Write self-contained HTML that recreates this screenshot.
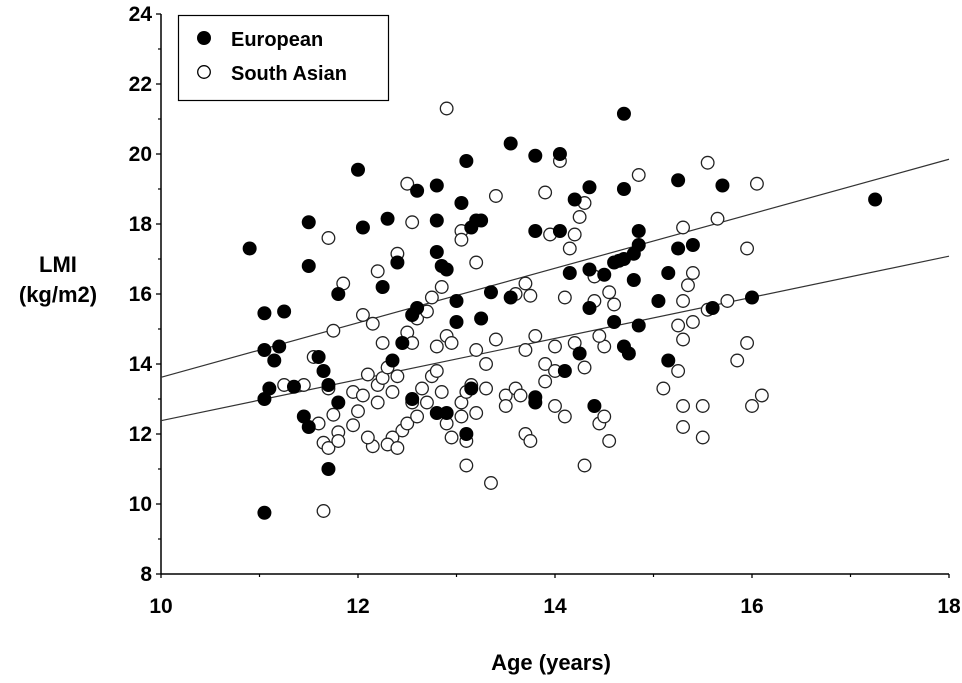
<!DOCTYPE html>
<html><head><meta charset="utf-8">
<style>
html,body{margin:0;padding:0;background:#fff;}
svg{display:block;font-family:"Liberation Sans",Arial,sans-serif;}
</style></head>
<body>
<svg id="chart" width="962" height="683" viewBox="0 0 962 683" xmlns="http://www.w3.org/2000/svg">
<g id="axes"></g>
<g id="lines"></g>
<g id="pts"></g>
<text x="58" y="272" font-size="22" font-weight="bold" text-anchor="middle">LMI</text>
<text x="58" y="302" font-size="22" font-weight="bold" text-anchor="middle">(kg/m2)</text>
<text x="551" y="670" font-size="22" font-weight="bold" text-anchor="middle">Age (years)</text>
<g>
<rect x="178.5" y="15.5" width="210" height="85" fill="#fff" stroke="#000" stroke-width="1.2"/>
<circle cx="204" cy="38" r="7" fill="#000"/>
<text x="231" y="46" font-size="20" font-weight="bold">European</text>
<circle cx="204" cy="72" r="6.3" fill="#fff" stroke="#000" stroke-width="1.3"/>
<text x="231" y="80" font-size="20" font-weight="bold">South Asian</text>
</g>
</svg>
<script>
const xTicks=[10,12,14,16,18];
const yTicks=[8,10,12,14,16,18,20,22,24];
const euroX=[10.9,11.05,11.05,11.1,11.05,11.15,11.25,11.2,11.35,11.5,11.5,11.45,11.5,11.6,11.65,11.7,11.7,11.05,11.8,11.8,12.0,12.05,12.25,12.3,12.4,12.35,12.45,12.55,12.55,12.6,12.6,12.8,12.8,12.8,12.85,12.9,12.8,12.9,13.0,13.0,13.05,13.1,13.15,13.2,13.25,13.35,13.15,13.1,13.25,13.55,13.55,13.8,13.8,13.8,13.8,14.05,14.05,14.1,14.15,14.2,14.25,14.35,14.35,14.35,14.4,14.5,14.6,14.6,14.65,14.7,14.7,14.7,14.7,14.75,14.8,14.8,14.85,14.85,14.85,15.05,15.15,15.15,15.25,15.25,15.4,15.6,15.7,16.0,17.25];
const euroY=[17.3,14.4,15.45,13.3,13.0,14.1,15.5,14.5,13.35,18.05,16.8,12.5,12.2,14.2,13.8,13.4,11.0,9.75,16.0,12.9,19.55,17.9,16.2,18.15,16.9,14.1,14.6,15.4,13.0,18.95,15.6,19.1,18.1,17.2,16.8,16.7,12.6,12.6,15.8,15.2,18.6,19.8,17.9,18.1,18.1,16.05,13.3,12.0,15.3,20.3,15.9,19.95,17.8,13.05,12.9,20.0,17.8,13.8,16.6,18.7,14.3,19.05,16.7,15.6,12.8,16.55,16.9,15.2,16.95,17.0,21.15,19.0,14.5,14.3,17.15,16.4,17.4,17.8,15.1,15.8,16.6,14.1,19.25,17.3,17.4,15.6,19.1,15.9,18.7];
const asianX=[12.9,11.7,11.85,12.05,11.75,12.15,11.55,11.25,11.45,11.7,11.6,11.75,11.8,11.65,11.7,11.8,11.95,12.0,11.95,12.05,12.1,12.2,12.2,12.25,12.3,12.25,12.35,12.4,12.45,12.35,12.5,12.3,12.4,12.55,12.65,12.6,12.7,12.75,12.8,12.8,12.85,12.9,12.95,13.05,13.1,13.15,13.05,13.1,13.1,13.35,11.65,12.15,12.1,12.5,12.55,12.4,12.2,12.5,12.55,12.6,12.7,12.75,12.85,12.9,12.95,13.05,13.05,13.2,13.4,13.5,13.6,13.4,13.6,13.7,13.75,13.7,13.65,13.7,13.75,13.9,14.0,14.0,13.95,13.9,14.05,14.15,14.2,14.25,14.3,14.1,14.2,14.3,14.4,14.4,14.5,14.45,14.55,14.6,14.3,14.45,14.55,14.5,14.85,15.1,15.25,15.3,15.3,15.25,15.3,15.3,15.35,15.4,15.3,15.55,15.65,15.75,15.55,15.85,15.95,16.0,16.1,16.05,15.95,15.5,15.5,15.4,13.3,13.3,13.2,13.2,13.5,13.8,13.9,14.1,14.0];
const asianY=[21.3,17.6,16.3,15.4,14.95,15.15,14.2,13.4,13.4,13.3,12.3,12.55,12.05,11.75,11.6,11.8,12.25,12.65,13.2,13.1,13.7,13.4,12.9,13.6,13.9,14.6,13.2,13.65,12.1,11.9,12.3,11.7,11.6,12.9,13.3,12.5,12.9,13.65,13.8,14.5,13.2,12.3,11.9,12.9,13.2,13.4,12.5,11.8,11.1,10.6,9.8,11.65,11.9,19.15,18.05,17.15,16.65,14.9,14.6,15.3,15.5,15.9,16.2,14.8,14.6,17.8,17.55,16.9,14.7,13.1,13.3,18.8,16.0,16.3,15.95,14.4,13.1,12.0,11.8,13.5,12.8,14.5,17.7,18.9,19.8,17.3,17.7,18.2,18.6,15.9,14.6,13.9,15.8,16.5,14.5,14.8,16.05,15.7,11.1,12.3,11.8,12.5,19.4,13.3,15.1,15.8,14.7,13.8,12.8,12.2,16.25,16.6,17.9,19.75,18.15,15.8,15.55,14.1,14.6,12.8,13.1,19.15,17.3,12.8,11.9,15.2,14.0,13.3,14.4,12.6,12.8,14.8,14.0,12.5,13.8];
const fitStart=[10,13.62];
const fitEnd=[18,19.85];
const fit2Start=[10,12.38];
const fit2End=[18,17.08];
const NS="http://www.w3.org/2000/svg";
const X0=161,X1=949,Y0=574,Y1=14,xMin=10,xMax=18,yMin=8,yMax=24;
function sx(v){return X0+(v-xMin)/(xMax-xMin)*(X1-X0);}
function sy(v){return Y0-(v-yMin)/(yMax-yMin)*(Y0-Y1);}
function mk(tag,attrs,parent){const e=document.createElementNS(NS,tag);for(const k in attrs)e.setAttribute(k,attrs[k]);parent.appendChild(e);return e;}
const axes=document.getElementById('axes');
let a=mk('line',{x1:X0,y1:Y1,x2:X0,y2:Y0,stroke:'#000','stroke-width':1.5},axes);


a=mk('line',{x1:X0,y1:Y0,x2:X1,y2:Y0,stroke:'#000','stroke-width':1.5},axes);


yTicks.forEach((v,i)=>{
  const y=sy(v);
  const t=mk('line',{x1:X0-5,y1:y,x2:X0,y2:y,stroke:'#000','stroke-width':1.3},axes);
  
  
  if(i<yTicks.length-1){const m=mk('line',{x1:X0-3,y1:sy(v+1),x2:X0,y2:sy(v+1),stroke:'#000','stroke-width':1.2},axes);
  
  }
  const l=mk('text',{x:X0-9,y:y+7,'font-size':21,'font-weight':'bold','text-anchor':'end'},axes);
  l.textContent=v;
  
  
});
xTicks.forEach((v,i)=>{
  const x=sx(v);
  const t=mk('line',{x1:x,y1:Y0,x2:x,y2:Y0+4,stroke:'#000','stroke-width':1.3},axes);
  
  
  if(i<xTicks.length-1){const m=mk('line',{x1:sx(v+1),y1:Y0,x2:sx(v+1),y2:Y0+3,stroke:'#000','stroke-width':1.2},axes);
  
  }
  const l=mk('text',{x:x,y:Y0+39,'font-size':21,'font-weight':'bold','text-anchor':'middle'},axes);
  l.textContent=v;
  
  
});
const lines=document.getElementById('lines');
let f=mk('line',{x1:sx(fitStart[0]),y1:sy(fitStart[1]),x2:sx(fitEnd[0]),y2:sy(fitEnd[1]),stroke:'#333','stroke-width':1.2},lines);


f=mk('line',{x1:sx(fit2Start[0]),y1:sy(fit2Start[1]),x2:sx(fit2End[0]),y2:sy(fit2End[1]),stroke:'#333','stroke-width':1.2},lines);


const pts=document.getElementById('pts');
asianX.forEach((v,i)=>{
  const c=mk('circle',{cx:sx(v),cy:sy(asianY[i]),r:6.3,fill:'#fff',stroke:'#222','stroke-width':1.3},pts);
  
  
});
euroX.forEach((v,i)=>{
  const c=mk('circle',{cx:sx(v),cy:sy(euroY[i]),r:7,fill:'#000'},pts);
  
  
});
</script>
</body></html>
